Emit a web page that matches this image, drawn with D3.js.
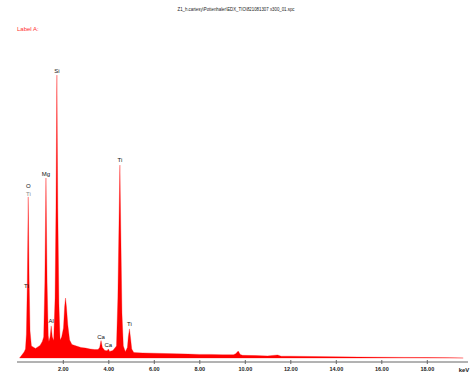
<!DOCTYPE html>
<html>
<head>
<meta charset="utf-8">
<script src="https://cdnjs.cloudflare.com/ajax/libs/d3/7.8.5/d3.min.js"></script>
<style>
  body { margin: 0; background: #fff; }
  svg { display: block; }
  text { font-family: "Liberation Sans Narrow", "Liberation Sans", "DejaVu Sans Condensed", sans-serif; }
</style>
</head>
<body>
<svg id="chart" width="472" height="377"></svg>
<script>
// spectrum: energy (keV) and counts (relative)
var energy = [0.10, 0.20, 0.30, 0.36, 0.40, 0.44, 0.48, 0.52, 0.56, 0.62, 0.80, 1.00, 1.10,
              1.16, 1.21, 1.26, 1.31, 1.36, 1.39, 1.44, 1.49, 1.54, 1.60,
              1.66, 1.70, 1.74, 1.78, 1.83, 1.88, 1.95,
              2.03, 2.08, 2.12, 2.16, 2.22, 2.30, 2.40,
              2.60, 2.80, 3.00, 3.20, 3.40, 3.55, 3.62, 3.68, 3.74, 3.85, 3.95, 4.00, 4.06, 4.20,
              4.36, 4.42, 4.47, 4.51, 4.55, 4.60, 4.66, 4.75,
              4.84, 4.88, 4.93, 4.98, 5.03, 5.12,
              5.50, 6.00, 6.50, 7.00, 7.50, 8.00, 8.50, 9.00, 9.50, 9.60, 9.71, 9.80, 9.90,
              10.50, 11.00, 11.44, 11.60, 12.00, 13.00, 14.00, 15.00, 16.00, 17.00, 18.00, 19.00, 19.60];
var counts = [0, 10, 20, 30, 80, 250, 537, 260, 90, 40, 32, 42, 55,
              70, 250, 600, 250, 75, 55, 70, 107, 70, 58,
              200, 500, 943, 500, 180, 60, 70,
              100, 170, 200, 170, 110, 60, 45,
              40, 35, 33, 30, 28, 28, 35, 58, 35, 25, 24, 30, 22, 25,
              40, 200, 450, 643, 420, 150, 40, 21,
              35, 70, 97, 65, 30, 18,
              17, 16, 15, 14, 13, 12, 12, 11, 11, 14, 23, 12, 9,
              8, 7, 10, 6, 6, 5, 4, 3, 2.5, 2, 1.5, 1, 0];

// element markers: name, energy, counts level where the label sits
var peakNames  = ["Si", "Mg", "O", "Ti", "Ti", "Ti", "Al", "Ca", "Ca", "Ti"];
var peakEnergy = [1.74, 1.26, 0.49, 0.49, 0.40, 4.51, 1.49, 3.68, 4.00, 4.93];
var peakLevel  = [950, 607, 567, 540, 233, 653, 117, 65, 38, 107];

var tickValues = [2, 4, 6, 8, 10, 12, 14, 16, 18];
var titleText = "Z1_h.cartesy\\Pottenhaler\\EDX_TIO\\821081307 x300_01.spc";

var svg = d3.select("#chart");

var x = d3.scaleLinear().domain([0, 20]).range([17.3, 472.3]);
var y = d3.scaleLinear().domain([0, 1000]).range([358, 58]);

var data = energy.map(function(e, i) { return { e: e, c: counts[i] }; });

var area = d3.area()
    .x(function(d) { return x(d.e); })
    .y0(y(0))
    .y1(function(d) { return y(d.c); });

svg.append("path")
    .datum(data)
    .attr("d", area)
    .attr("fill", "#ff0000")
    .attr("stroke", "#ff0000")
    .attr("stroke-width", 0.3)
    .attr("stroke-linejoin", "round");

// energy axis
var axis = d3.axisBottom(x)
    .tickValues(tickValues)
    .tickSize(2)
    .tickFormat(d3.format(".2f"));

var gAxis = svg.append("g")
    .attr("transform", "translate(0,362)")
    .call(axis);

gAxis.select(".domain")
    .attr("d", "M17,0H468")
    .attr("stroke", "#666");
gAxis.selectAll(".tick line")
    .attr("y1", -2)
    .attr("y2", 2)
    .attr("stroke", "#666");
gAxis.selectAll(".tick text")
    .attr("y", 5)
    .attr("font-size", 5.5)
    .attr("font-weight", "bold")
    .attr("fill", "#222");

svg.append("text")
    .attr("x", 464)
    .attr("y", 372)
    .attr("text-anchor", "middle")
    .attr("font-size", 6)
    .attr("font-weight", "bold")
    .attr("fill", "#222")
    .text("keV");

// peak labels
svg.append("g")
    .selectAll("text")
    .data(peakNames)
    .enter().append("text")
    .attr("x", function(d, i) { return x(peakEnergy[i]); })
    .attr("y", function(d, i) { return y(peakLevel[i]); })
    .attr("text-anchor", "middle")
    .attr("font-size", 6)
    .attr("fill", function(d, i) { return i == 3 ? "#888" : "#111"; })
    .text(function(d) { return d; });

// header texts
svg.append("text")
    .attr("x", 236)
    .attr("y", 11)
    .attr("text-anchor", "middle")
    .attr("font-size", 5.5)
    .attr("textLength", 117)
    .attr("lengthAdjust", "spacingAndGlyphs")
    .attr("fill", "#222")
    .text(titleText);

svg.append("text")
    .attr("x", 17)
    .attr("y", 31)
    .attr("font-size", 6)
    .attr("fill", "#ff3030")
    .text("Label A:");
</script>
</body>
</html>
